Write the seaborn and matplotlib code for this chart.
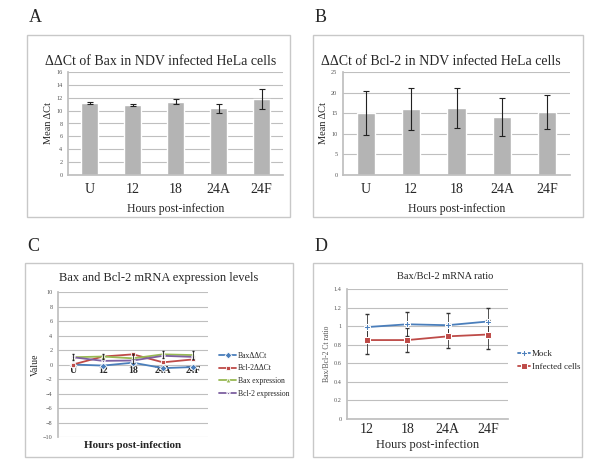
import numpy as np
import pandas as pd
import matplotlib
matplotlib.use("Agg")
import matplotlib.pyplot as plt
import seaborn as sns
from matplotlib.patches import Rectangle

sns.set_theme(style="white")
plt.rcParams['font.family'] = ['Liberation Serif', 'DejaVu Serif']

# --- data ---
hours = ["U", "12", "18", "24A", "24F"]
bax_dct = [11.2, 10.9, 11.4, 10.4, 11.8]
bax_dct_err = [0.1, 0.15, 0.4, 0.7, 1.6]
bcl2_dct = [15.0, 16.0, 16.3, 14.0, 15.3]
bcl2_dct_err = [5.4, 5.0, 4.8, 4.6, 4.1]

bax_ddct = [0.0, -0.15, 0.25, -0.5, -0.35]
bcl2_ddct = [0.0, 1.1, 1.4, 0.3, 0.7]
bax_expr = [1.0, 1.1, 0.85, 1.4, 1.3]
bax_expr_err = [0.4, 0.3, 0.6, 0.5, 0.5]
bcl2_expr = [1.0, 0.5, 0.55, 1.2, 1.05]

hours_inf = ["12", "18", "24A", "24F"]
mock_ratio = [0.99, 1.02, 1.01, 1.05]
mock_err = [0.14, 0.13, 0.13, 0.15]
inf_ratio = [0.85, 0.85, 0.89, 0.91]
inf_err = [0.15, 0.13, 0.13, 0.16]

W, H = 600, 473
fig = plt.figure(figsize=(6, 4.73), dpi=100)
fig.patch.set_facecolor("white")

GRID = "#bfbfbf"
BAR = "#b4b4b4"
BLUE, RED, GREEN, PURPLE = "#4a7ebb", "#be4b48", "#98b954", "#7d60a0"


def ax_at(x0, y0, x1, y1):
    return fig.add_axes([x0 / W, 1 - y1 / H, (x1 - x0) / W, (y1 - y0) / H])


def frame(x0, y0, x1, y1, letter):
    fig.patches.append(Rectangle((x0 / W, 1 - y1 / H), (x1 - x0) / W, (y1 - y0) / H,
                                 transform=fig.transFigure, fill=False,
                                 edgecolor="#c8c8c8", lw=1))
    fig.text((x0 + 2) / W, 1 - (y0 - 17) / H, letter, fontsize=13, va="center", ha="left")


def style(ax):
    ax.set_facecolor("white")
    for s in ["top", "right"]:
        ax.spines[s].set_visible(False)
    ax.spines["left"].set_color(GRID)
    ax.spines["bottom"].set_color(GRID)
    ax.grid(axis="y", color=GRID, lw=0.8)
    ax.set_axisbelow(True)
    ax.tick_params(axis="y", labelsize=4.5, colors="#555555", length=2, width=0.5, pad=2)
    ax.tick_params(axis="x", length=0, pad=3)


def bar_panel(ax, vals, errs, ymax, ystep, title, tx):
    df = pd.DataFrame({"hours": hours, "val": vals})
    sns.barplot(data=df, x="hours", y="val", color=BAR, width=0.4, saturation=1, ax=ax)
    ax.errorbar(range(len(vals)), vals, yerr=errs, fmt="none", ecolor="#222222",
                elinewidth=0.8, capsize=2, capthick=0.8)
    style(ax)
    ax.set_ylim(0, ymax)
    ax.set_yticks(np.arange(0, ymax + 0.1, ystep))
    ax.set_xlim(-0.5, 4.5)
    ax.tick_params(axis="x", labelsize=10, pad=6)
    ax.set_xlabel("Hours post-infection", fontsize=8.5, labelpad=5)
    ax.set_ylabel("Mean ΔCt", fontsize=7.5, labelpad=2)
    ax.set_title(title, fontsize=10, pad=5, x=tx)


# Panel A
frame(27, 35, 290, 217, "A")
axA = ax_at(68, 72, 283, 175)
bar_panel(axA, bax_dct, bax_dct_err, 16, 2, "ΔΔCt of Bax in NDV infected HeLa cells", 0.43)

# Panel B
frame(313, 35, 583, 217, "B")
axB = ax_at(343, 72, 570, 175)
bar_panel(axB, bcl2_dct, bcl2_dct_err, 25, 5, "ΔΔCt of Bcl-2 in NDV infected HeLa cells", 0.43)

# Panel C
frame(25, 263, 293, 457, "C")
axC = ax_at(58, 292, 208, 437)
dfC = pd.DataFrame({"hours": hours * 4,
                    "value": bax_ddct + bcl2_ddct + bax_expr + bcl2_expr,
                    "series": ["BaxΔΔCt"] * 5 + ["Bcl-2ΔΔCt"] * 5
                              + ["Bax expression"] * 5 + ["Bcl-2 expression"] * 5})
sns.lineplot(data=dfC, x="hours", y="value", hue="series", style="series",
             palette=[BLUE, RED, GREEN, PURPLE],
             markers=["D", "s", "^", "*"], dashes=False, markersize=3.5,
             markeredgewidth=0.6, lw=1.3, sort=False, ax=axC)
axC.errorbar(range(5), bax_expr, yerr=bax_expr_err, fmt="none", ecolor="#222222",
             elinewidth=0.6, capsize=1, zorder=5)
style(axC)
axC.spines["bottom"].set_position(("data", 0))
axC.spines["bottom"].set_visible(False)
axC.set_ylim(-10, 10)
axC.set_yticks(np.arange(-10, 11, 2))
axC.set_xlim(-0.5, 4.5)
axC.tick_params(axis="x", labelsize=7, pad=1)
for lab in axC.get_xticklabels():
    lab.set_fontweight("bold")
axC.set_xlabel("Hours post-infection", fontsize=8, fontweight="bold")
axC.xaxis.set_label_coords(0.5, -0.03)
axC.set_ylabel("Value", fontsize=7, labelpad=2)
axC.set_title("Bax and Bcl-2 mRNA expression levels", fontsize=9, pad=8, x=0.67)
axC.legend(loc="center left", bbox_to_anchor=(1.03, 0.43), frameon=False,
           fontsize=5.5, handlelength=2.2, handletextpad=0.2, labelspacing=0.6)

# Panel D
frame(313, 263, 582, 457, "D")
axD = ax_at(347, 289, 508, 419)
dfD = pd.DataFrame({"hours": hours_inf * 2,
                    "ratio": mock_ratio + inf_ratio,
                    "group": ["Mock"] * 4 + ["Infected cells"] * 4})
sns.lineplot(data=dfD, x="hours", y="ratio", hue="group", style="group",
             palette=[BLUE, RED], markers=["P", "s"], dashes=False,
             markersize=4, lw=1.3, sort=False, ax=axD)
axD.errorbar(range(4), mock_ratio, yerr=mock_err, fmt="none", ecolor="#333333",
             elinewidth=0.6, capsize=1.2, zorder=1)
axD.errorbar(range(4), inf_ratio, yerr=inf_err, fmt="none", ecolor="#333333",
             elinewidth=0.6, capsize=1.2, zorder=1)
style(axD)
axD.set_ylim(0, 1.4)
axD.set_yticks(np.arange(0, 1.41, 0.2))
axD.set_yticklabels(["0", "0.2", "0.4", "0.6", "0.8", "1", "1.2", "1.4"])
axD.set_xlim(-0.5, 3.5)
axD.tick_params(axis="x", labelsize=10, pad=3)
axD.set_xlabel("Hours post-infection", fontsize=9, labelpad=2)
axD.set_ylabel("Bax/Bcl-2 Ct ratio", fontsize=5.5, color="#555555", labelpad=2)
axD.set_title("Bax/Bcl-2 mRNA ratio", fontsize=7.5, pad=7, x=0.61)
axD.legend(loc="center left", bbox_to_anchor=(1.01, 0.45), frameon=False,
           fontsize=6.5, handlelength=1.4, handletextpad=0.2, labelspacing=0.5)

fig.savefig("out.png", dpi=100, facecolor="white")
